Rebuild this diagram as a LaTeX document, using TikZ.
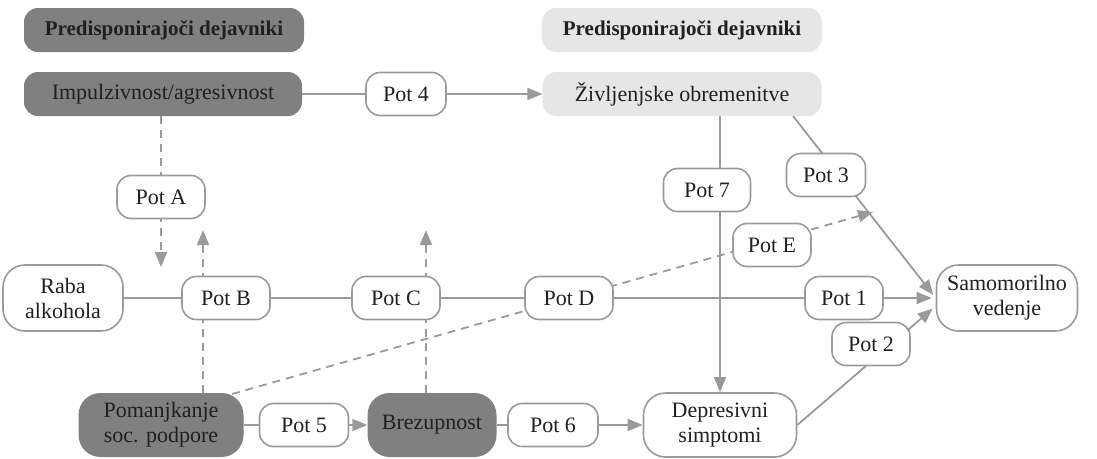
\documentclass[tikz,border=0pt]{standalone}
\usepackage{fontspec}
\setmainfont{Liberation Serif}
\usetikzlibrary{calc}
\usetikzlibrary{arrows.meta}
\usetikzlibrary{backgrounds,positioning}
\definecolor{linegray}{HTML}{9A9A9C}
\definecolor{darkbox}{HTML}{808080}
\definecolor{lightbox}{HTML}{E6E6E7}
\definecolor{ink}{HTML}{231F20}

\begin{document}
\begin{tikzpicture}[
    x=1pt, y=-1pt,
    >={Triangle[length=15pt, width=12pt]},
    font=\fontsize{22}{25}\selectfont,
    box/.style={rounded corners=14pt, minimum height=44pt, inner sep=0pt,
                text=ink, align=center},
    hdark/.style={box, fill=darkbox, minimum width=280pt},
    hlight/.style={box, fill=lightbox, minimum width=280pt},
    header/.style={font=\fontsize{21}{25}\selectfont\bfseries},
    pot/.style={box, draw=linegray, line width=1.6pt, fill=white,
                minimum width=88pt, minimum height=43pt},
    bigbox/.style={box, draw=linegray, line width=1.6pt, fill=white,
                   rounded corners=22pt, minimum height=66pt},
    darkbig/.style={box, fill=darkbox, rounded corners=22pt, minimum height=64pt},
    conn/.style={draw=linegray, line width=1.8pt},
    dconn/.style={conn, dash pattern=on 8pt off 6pt},
]
\useasboundingbox (0,0) rectangle (1097,458);

% ── top: headers and the two factors ──
\node[hdark, header]  (hleft)  at (164,30) {Predisponirajoči dejavniki};
\node[hlight, header] (hright) at (682,30) {Predisponirajoči dejavniki};
\node[hdark, minimum width=278pt] (imp) at (163,94) {Impulzivnost/agresivnost};
\node[hlight, minimum width=279pt] (ziv) at (682,94) {Življenjske obremenitve};
\node[pot, minimum width=80pt] (pot4) at (406,94) {Pot 4};
\node[pot] (potA) at (161,197) {Pot A};

% ── middle row ──
\node[bigbox, minimum width=120pt] (raba) at (63,298) {Raba\\alkohola};
\node[pot] (potB) at (226,298) {Pot B};
\node[pot] (potC) at (396,298) {Pot C};
\node[pot] (potD) at (569,298) {Pot D};
\node[pot, minimum width=78pt] (pot1) at (844,298) {Pot 1};
\node[bigbox, minimum width=141pt] (sam) at (1007,298) {Samomorilno\\vedenje};
\node[pot, minimum width=87pt] (pot7) at (707,190) {Pot 7};
\node[pot, minimum width=79pt] (pot3) at (826,175) {Pot 3};
\node[pot, minimum width=78pt] (potE) at (772,245) {Pot E};
\node[pot, minimum width=78pt] (pot2) at (871,344) {Pot 2};

% ── bottom row ──
\node[darkbig, minimum width=165pt] (pom) at (161,425) {Pomanjkanje\\soc. podpore};
\node[pot, minimum width=89pt] (pot5) at (304,425) {Pot 5};
\node[darkbig, minimum width=129pt] (bre) at (432,425) {Brezupnost};
\node[pot, minimum width=90pt] (pot6) at (553,425) {Pot 6};
\node[bigbox, minimum width=153pt, minimum height=64pt] (dep) at (720,425) {Depresivni\\simptomi};

\coordinate (aTip) at (161,267);
\coordinate (bTip) at (203,230);
\coordinate (cTip) at (426,230);
\coordinate (z3) at (793,116);
\coordinate (eStart) at (232,394);
\coordinate (eTip) at (873,212);

\begin{scope}[on background layer]
    \draw[conn, ->] (imp.east) -- (ziv.west);
    \draw[conn, ->, shorten >=4pt] (raba.east) -- (sam.west);
    \draw[conn, ->] (pom.east) -- (bre.west);
    \draw[conn, ->] (bre.east) -- (dep.west);
    \draw[conn, ->] (ziv.south -| dep.north) -- (dep.north);
    \draw[conn, ->, shorten >=4pt] (z3) -- (sam.west);
    \draw[conn, ->, shorten >=4pt] (dep.east) -- ($(sam.west)+(0,8)$);
    % moderating paths
    \draw[dconn, ->] (imp.south -| aTip) -- (aTip);
    \draw[dconn, ->] (pom.north -| bTip) -- (bTip);
    \draw[dconn, ->] (bre.north -| cTip) -- (cTip);
    \draw[dconn, ->] (eStart) -- (eTip);
\end{scope}

\end{tikzpicture}
\end{document}
